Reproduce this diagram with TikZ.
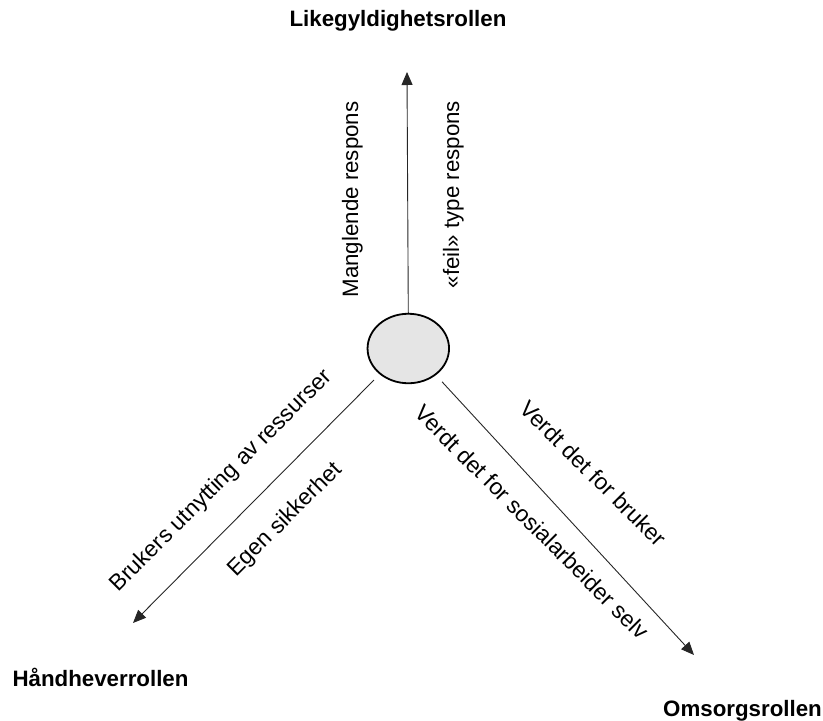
\documentclass[tikz,border=0pt]{standalone}
\usepackage{fontspec}
\setmainfont{Liberation Sans}
\usetikzlibrary{arrows.meta,shapes.geometric}
\begin{document}
\begin{tikzpicture}[x=1pt,y=-1pt,
  lbl/.style={inner sep=0pt,font=\fontsize{22.3}{26}\selectfont},
  dlbl/.style={inner sep=0pt,font=\fontsize{22.8}{27}\selectfont},
  role/.style={inner sep=0pt,anchor=base,font=\fontsize{22.3}{26}\selectfont\bfseries},
  axis/.style={line width=0.9pt,draw=black!85,-{Triangle[length=13pt,width=11pt]}},
  hub/.style={ellipse,draw=black,line width=1.8pt,fill=black!10,minimum width=81.5pt,minimum height=69.5pt,inner sep=0pt}]
\useasboundingbox (0,0) rectangle (823,721);
\node[hub] (c) at (408.3,348.5) {};
\coordinate (top) at (407,72);
\coordinate (bl) at (133,623);
\coordinate (br) at (694,655);
\draw[axis] (c.north) -- (top);
\draw[axis,shorten <=8pt] (c.222.6) -- (bl);
\draw[axis,shorten <=9pt] (c.316.5) -- (br);
\node[role] (t1) at (398,26.7) {Likegyldighetsrollen};
\node[role] (t2) at (100.5,686) {Håndheverrollen};
\node[role] (t3) at (742.5,716.7) {Omsorgsrollen};
\node[lbl,rotate=90] (l1) at (352.3,199.5) {Manglende respons};
\node[lbl,rotate=90] (l2) at (453.3,194.5) {«feil» type respons};
\node[dlbl,rotate=45] (l3) at (221.5,481.1) {Brukers utnytting av ressurser};
\node[dlbl,rotate=45] (l4) at (285.2,519.8) {Egen sikkerhet};
\node[dlbl,rotate=-45] (l5) at (593.5,473.4) {Verdt det for bruker};
\node[dlbl,rotate=-45] (l6) at (532.2,522.1) {Verdt det for sosialarbeider selv};
\end{tikzpicture}
\end{document}
